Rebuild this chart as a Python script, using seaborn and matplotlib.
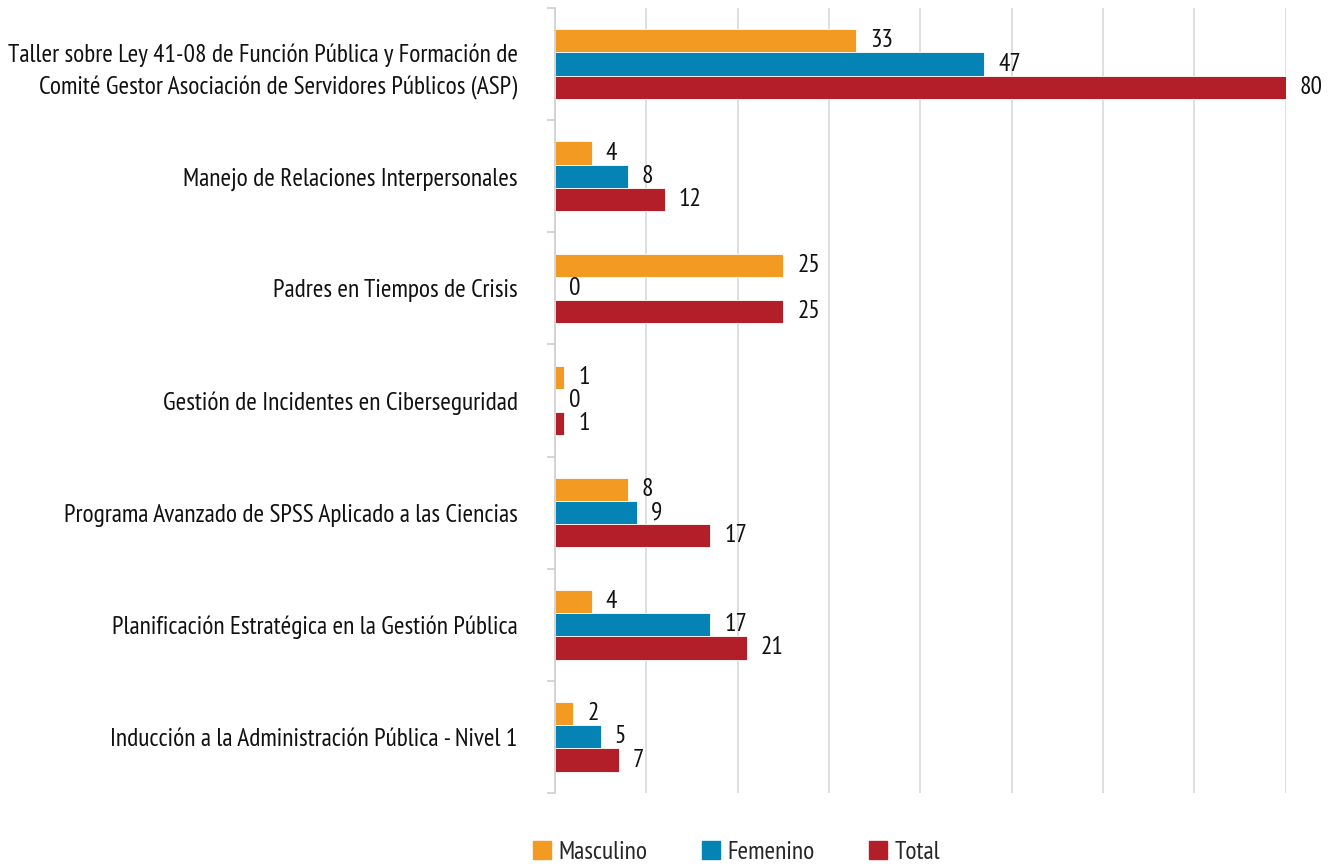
import matplotlib
matplotlib.use("Agg")
import matplotlib.pyplot as plt
import seaborn as sns
import pandas as pd
import numpy as np
from matplotlib.font_manager import fontManager

categories = [
    "Taller sobre Ley 41-08 de Función Pública y Formación de\nComité Gestor Asociación de Servidores Públicos (ASP)",
    "Manejo de Relaciones Interpersonales",
    "Padres en Tiempos de Crisis",
    "Gestión de Incidentes en Ciberseguridad",
    "Programa Avanzado de SPSS Aplicado a las Ciencias",
    "Planificación Estratégica en la Gestión Pública",
    "Inducción a la Administración Pública - Nivel 1",
]
series = ["Masculino", "Femenino", "Total"]
masculino = [33, 4, 25, 1, 8, 4, 2]
femenino = [47, 8, 0, 0, 9, 17, 5]
total = [80, 12, 25, 1, 17, 21, 7]
colors = ["#F39A22", "#0583B5", "#B31F29"]

sns.set_theme(style="white")
names = {f.name for f in fontManager.ttflist}
fam = "DejaVu Sans"
for cand in ["PT Sans Narrow", "Fira Sans Extra Condensed", "Fira Sans Condensed",
             "Roboto Condensed", "Asap Condensed", "Barlow Semi Condensed", "Archivo Narrow"]:
    if cand in names:
        fam = cand
        break
plt.rcParams["font.family"] = [fam, "DejaVu Sans"]
FS = 18.3

df = pd.DataFrame({
    "cat": categories * 3,
    "serie": [s for s in series for _ in categories],
    "value": masculino + femenino + total,
})

fig = plt.figure(figsize=(13.38, 8.67), dpi=100)
ax = fig.add_axes([0.4148, 0.0854, 0.961 - 0.4148, 0.9908 - 0.0854])
sns.barplot(data=df, y="cat", x="value", hue="serie", hue_order=series,
            order=categories, palette=colors, saturation=1, width=0.62, orient="h",
            edgecolor="white", linewidth=0.6, ax=ax, legend=True)

ax.set_xlim(0, 80)
ax.set_ylim(6.5, -0.5)
ax.set_xticks(np.arange(0, 81, 10))
ax.set_xticklabels([])
ax.tick_params(axis="x", length=0)
ax.grid(axis="x", color="#d9d9d9", linewidth=1.2)
ax.set_axisbelow(True)
for s in ["top", "right", "bottom"]:
    ax.spines[s].set_visible(False)
ax.spines["left"].set_color("#d0d0d0")
ax.spines["left"].set_linewidth(1.2)
ax.set_yticks(range(len(categories)))
ax.set_yticklabels(categories, fontsize=FS, color="#111111", linespacing=1.5)
ax.tick_params(axis="y", which="major", length=0, pad=27)
ax.set_yticks(np.arange(-0.5, len(categories), 1), minor=True)
ax.tick_params(axis="y", which="minor", left=True, length=6, color="#d0d0d0", width=1.2)
ax.set_xlabel("")
ax.set_ylabel("")

for cont in ax.containers:
    ax.bar_label(cont, fmt="%d", padding=10, fontsize=FS, color="#111111")

ax.get_legend().remove()
handles = [plt.Rectangle((0, 0), 1, 1, color=c) for c in colors]
fig.legend(handles, series, loc="center", bbox_to_anchor=(0.5505, 0.017), ncol=3,
           frameon=False, fontsize=FS, handlelength=0.71, handleheight=0.71,
           handletextpad=0.28, columnspacing=2.15, borderaxespad=0)

fig.savefig("out.png", dpi=100)
